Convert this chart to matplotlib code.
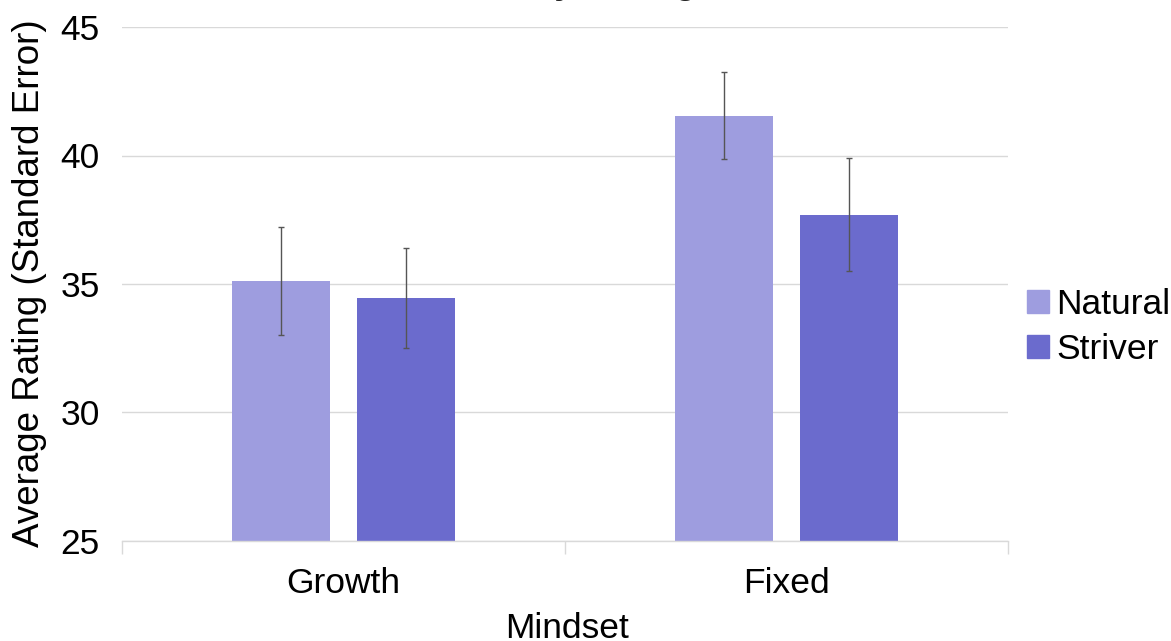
import matplotlib
matplotlib.use("Agg")
import matplotlib.pyplot as plt
import numpy as np

plt.rcParams['font.family'] = ['Liberation Sans', 'DejaVu Sans']

# Data
categories = ["Growth", "Fixed"]
series_names = ["Natural", "Striver"]
natural_means = [35.1, 41.55]
striver_means = [34.45, 37.7]
natural_se = [2.1, 1.7]
striver_se = [1.95, 2.2]
yticks = [25, 30, 35, 40, 45]

colors = {"Natural": "#9e9ddf", "Striver": "#6b6bcd"}
W, H = 1171, 641

fig = plt.figure(figsize=(W / 100, H / 100), dpi=100)
ax = fig.add_axes([122 / W, 1 - 541 / H, (1008 - 122) / W, (541 - 27) / H])

x = np.arange(len(categories))
width = 0.221
offset = 0.141

for vals, errs, name, sgn in [(natural_means, natural_se, "Natural", -1),
                              (striver_means, striver_se, "Striver", 1)]:
    ax.bar(x + sgn * offset, vals, width, color=colors[name], label=name, zorder=2)
    ax.errorbar(x + sgn * offset, vals, yerr=errs, fmt='none', ecolor='#555555',
                elinewidth=1.0, capsize=2, capthick=1.0, zorder=3)

ax.set_xlim(-0.5, 1.5)
ax.set_ylim(25, 45)
ax.set_yticks(yticks)
ax.yaxis.grid(True, color='#d9d9d9', linewidth=1.0, zorder=0)
ax.set_axisbelow(True)

for side in ['left', 'right', 'top']:
    ax.spines[side].set_visible(False)
ax.spines['bottom'].set_color('#d9d9d9')
ax.spines['bottom'].set_linewidth(1.0)

# Category labels centred on groups, tick marks at the group boundaries
ax.set_xticks([-0.5, 0.5, 1.5])
ax.set_xticklabels([])
ax.set_xticks(x, minor=True)
ax.set_xticklabels(categories, minor=True, fontsize=25.5)
ax.tick_params(axis='x', which='major', length=9, color='#d9d9d9', width=1.0)
ax.tick_params(axis='x', which='minor', length=0, pad=19)
ax.tick_params(axis='y', length=0, labelsize=25.5, pad=16)

fig.text(567 / W, 1 - 628 / H, "Mindset", ha='center', va='center', fontsize=25.5)
fig.text(30 / W, 1 - 283 / H, "Average Rating (Standard Error)", ha='center', va='center',
         rotation=90, fontsize=26.5)

fig.text(580 / W, 1 + 7 / H, "Ability Rating", ha='center', va='baseline',
         fontsize=26, fontweight='bold', color='#222222')

handles = [plt.Rectangle((0, 0), 1, 1, color=colors[n]) for n in series_names]
fig.legend(handles, series_names, loc='center left', bbox_to_anchor=(1027 / W, 1 - 327 / H),
           frameon=False, fontsize=25.5, handlelength=0.62, handleheight=0.62,
           handletextpad=0.2, labelspacing=0.32, borderaxespad=0, borderpad=0)

fig.savefig("out.png", dpi=100)
